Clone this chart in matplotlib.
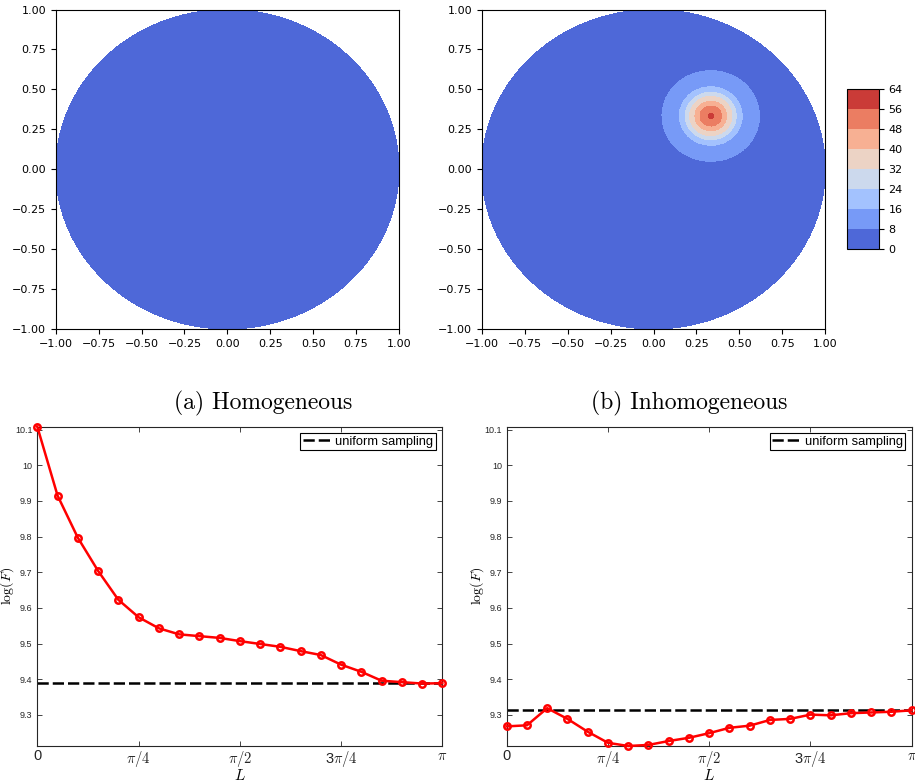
import numpy as np
import matplotlib
matplotlib.use("Agg")
import matplotlib.pyplot as plt

plt.rcParams['mathtext.fontset'] = 'cm'

# ---- density on the unit disk ---- #
levels = [0, 8, 16, 24, 32, 40, 48, 56, 64]
homog_value = 1.0
peak_center = (1/3, 1/3)
# radial profile of the bump
ring_radius = [0.0, 0.017, 0.063, 0.092, 0.123, 0.148, 0.182, 0.283, 0.45, 1.5]
ring_value = [57.5, 56, 48, 40, 32, 24, 16, 8, 2, 0]

# ---- log(F) against L ---- #
L_frac = [0, 0.05, 0.1, 0.15, 0.2, 0.25, 0.3, 0.35, 0.4, 0.45, 0.5,
          0.55, 0.6, 0.65, 0.7, 0.75, 0.8, 0.85, 0.9, 0.95, 1.0]
hom_logF = [10.108, 9.915, 9.797, 9.704, 9.623, 9.574, 9.543, 9.526, 9.521, 9.516, 9.507,
            9.499, 9.491, 9.479, 9.468, 9.441, 9.421, 9.396, 9.392, 9.388, 9.389]
hom_uniform = 9.389
inh_logF = [9.268, 9.271, 9.319, 9.289, 9.253, 9.222, 9.213, 9.216, 9.227, 9.236, 9.249,
            9.264, 9.270, 9.286, 9.289, 9.301, 9.299, 9.305, 9.307, 9.309, 9.313]
inh_uniform = 9.313

xtick_labels = ['0', r'$\pi/4$', r'$\pi/2$', r'3$\pi/4$', r'$\pi$']
ytick_vals = [9.3, 9.4, 9.5, 9.6, 9.7, 9.8, 9.9, 10.0, 10.1]

fig = plt.figure(figsize=(9.15, 7.84), dpi=100)
W, H = 915.0, 784.0

def box(x0, y0, x1, y1):
    return [x0 / W, 1 - y1 / H, (x1 - x0) / W, (y1 - y0) / H]

# polar mesh so the disk edge is smooth
rr, tt = np.meshgrid(np.linspace(0, 1, 300), np.linspace(0, 2 * np.pi, 400))
X = rr * np.cos(tt)
Y = rr * np.sin(tt)
Z_hom = np.full_like(X, homog_value)
dist = np.hypot(X - peak_center[0], Y - peak_center[1])
Z_inh = np.interp(dist, ring_radius, ring_value)

disk_ticks = [-1, -0.75, -0.5, -0.25, 0, 0.25, 0.5, 0.75, 1]
disk_labels = [f'{v:.2f}'.replace('-', '\u2212') for v in disk_ticks]
ax_a = fig.add_axes(box(55.7, 9.5, 399, 329))
ax_b = fig.add_axes(box(481.7, 9.5, 825.3, 329))
cf = None
for ax, Z in [(ax_a, Z_hom), (ax_b, Z_inh)]:
    cf = ax.contourf(X, Y, Z, levels=levels, cmap='coolwarm')
    ax.set_xlim(-1, 1)
    ax.set_ylim(-1, 1)
    ax.set_xticks(disk_ticks)
    ax.set_yticks(disk_ticks)
    ax.set_xticklabels(disk_labels)
    ax.set_yticklabels(disk_labels)
    ax.tick_params(labelsize=8)

cax = fig.add_axes(box(846.7, 89.3, 878.7, 249.3))
cb = fig.colorbar(cf, cax=cax, ticks=levels)
cb.ax.tick_params(labelsize=8)

fig.text(263 / W, 1 - 403 / H, '(a) Homogeneous', ha='center', va='center',
         fontsize=17, family='cmr10')
fig.text(689 / W, 1 - 403 / H, '(b) Inhomogeneous', ha='center', va='center',
         fontsize=17, family='cmr10')

# ---- bottom row ---- #
L = np.pi * np.array(L_frac)
ymin = min(min(hom_logF), min(inh_logF))
ymax = max(max(hom_logF), max(inh_logF))

ax_c = fig.add_axes(box(37.3, 426.7, 442.3, 746))
ax_d = fig.add_axes(box(506.7, 426.7, 911.7, 746))
for ax, vals, uni in [(ax_c, hom_logF, hom_uniform), (ax_d, inh_logF, inh_uniform)]:
    ax.plot(L, vals, color='red', lw=1.8, marker='o', ms=4.6, mew=1.8,
            mfc='none', mec='red', clip_on=False, zorder=3)
    ax.plot([0, np.pi], [uni, uni], color='black', lw=1.8,
            linestyle=(0, (4.5, 1.6)), label='uniform sampling', zorder=2)
    ax.set_xlim(0, np.pi)
    ax.set_ylim(ymin, ymax)
    ax.set_xticks([0, np.pi / 4, np.pi / 2, 3 * np.pi / 4, np.pi])
    ax.set_xticklabels(xtick_labels, fontsize=10.5, family='Liberation Sans')
    ax.set_yticks(ytick_vals)
    ax.set_yticklabels([f'{v:g}' for v in ytick_vals], fontsize=6.5,
                       family='Liberation Sans')
    ax.tick_params(direction='in', top=True, right=True, length=3.5, width=0.6,
                   color='#262626', labelcolor='#262626')
    ax.tick_params(axis='x', pad=2.5)
    for sp in ax.spines.values():
        sp.set_linewidth(0.8)
        sp.set_color('#262626')
    ax.set_xlabel(r'$L$', fontsize=11)
    ax.xaxis.set_label_coords(0.5, -0.069)
    ax.set_ylabel(r'$\log(F)$', fontsize=10)
    ax.yaxis.set_label_coords(-0.052, 0.5)
    leg = ax.legend(loc='upper right', fancybox=False,
                    edgecolor='black', framealpha=1, handlelength=2.3,
                    handletextpad=0.2, borderpad=0.2, borderaxespad=0.5,
                    prop={'family': 'Liberation Sans', 'size': 9.3})
    leg.get_frame().set_linewidth(0.8)

fig.savefig('out.png', dpi=100)
